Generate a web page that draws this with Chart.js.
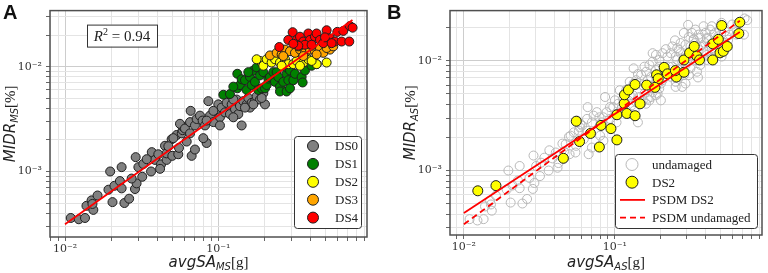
<!DOCTYPE html>
<html lang="en">
<head>
<meta charset="UTF-8">
<title>PSDM avgSA vs MIDR</title>
<script src="https://cdn.jsdelivr.net/npm/chart.js"></script>
<style>
  html, body { margin: 0; padding: 0; background: #fff; }
  #wrap { position: relative; width: 768px; height: 273px; overflow: hidden; }
  .panel { position: absolute; top: 0; width: 384px; height: 273px; }
  #panelA { left: 0; }
  #panelB { left: 384px; }
</style>
</head>
<body>
<div id="wrap">
  <div class="panel" id="panelA"><canvas id="chartA" width="384" height="273"></canvas></div>
  <div class="panel" id="panelB"><canvas id="chartB" width="384" height="273"></canvas></div>
</div>
<script>
// ---- Panel A data: avgSA_MS [g] vs MIDR_MS [%], by damage state ----
const ds0X = [0.0109,0.0123,0.0135,0.0138,0.0149,0.0153,0.0163,0.0151,0.0192,0.0197,0.0204,0.0210,0.0228,0.0234,0.0234,0.0244,0.0262,0.0286,0.0289,0.0293,0.0301,0.0319,0.0324,0.0364,0.0368,0.0386,0.0406,0.0423,0.0449,0.0460,0.0460,0.0496,0.0501,0.0535,0.0548,0.0554,0.0577,0.0585,0.0591,0.0509,0.0562,0.0606,0.0654,0.0660,0.0704,0.0722,0.0759,0.0790,0.0819,0.0861,0.0882,0.0928,0.0975,0.1000,0.1025,0.1051,0.1105,0.1133,0.1191,0.1222,0.1285,0.1317,0.1350,0.1384,0.1420,0.1455,0.1530,0.1569,0.1609,0.1650,0.1734,0.1778,0.1869,0.1966,0.2016,0.0622,0.0670,0.0839,0.0798,0.0704,0.0928,0.1253,0.1492,0.1692,0.1917,0.1253,0.1025,0.0839,0.0654,0.0472,0.0341,0.0417,0.0272];
const ds0Y = [0.00036,0.00035,0.00036,0.00047,0.00053,0.00043,0.00059,0.00049,0.00067,0.00100,0.00051,0.00073,0.00081,0.00069,0.00110,0.00050,0.00055,0.00068,0.00137,0.00077,0.00110,0.00089,0.00118,0.00100,0.00153,0.00129,0.00146,0.00117,0.00176,0.00129,0.00149,0.00203,0.00141,0.00223,0.00146,0.00168,0.00231,0.00248,0.00266,0.00208,0.00285,0.00257,0.00296,0.00379,0.00275,0.00317,0.00341,0.00306,0.00275,0.00469,0.00341,0.00296,0.00379,0.00437,0.00329,0.00407,0.00366,0.00452,0.00353,0.00437,0.00392,0.00486,0.00353,0.00421,0.00275,0.00469,0.00437,0.00503,0.00407,0.00452,0.00469,0.00521,0.00486,0.00559,0.00437,0.00193,0.00141,0.00187,0.00208,0.00162,0.00379,0.00486,0.00407,0.00437,0.00503,0.00329,0.00275,0.00306,0.00231,0.00174,0.00131,0.00106,0.000856];

const ds1X = [0.1078,0.1191,0.1330,0.1330,0.1384,0.1420,0.1492,0.1530,0.1609,0.1650,0.1692,0.1734,0.1778,0.1823,0.1869,0.1917,0.1966,0.2016,0.2067,0.2119,0.2173,0.2284,0.2342,0.2401,0.2462,0.2524,0.2524,0.2654,0.2791,0.2791,0.2791,0.2861,0.2934,0.2934,0.3084,0.3162,0.3496,0.3548,0.3675,0.4061,0.4377,0.1253,0.1569];
const ds1Y = [0.00540,0.00548,0.00856,0.00622,0.00668,0.00759,0.00743,0.00600,0.00797,0.00668,0.00919,0.00717,0.00986,0.00600,0.00826,0.00622,0.00887,0.00622,0.00668,0.00769,0.00797,0.00887,0.00717,0.00887,0.00797,0.00645,0.00580,0.00717,0.00856,0.00986,0.00580,0.00743,0.00622,0.00919,0.00743,0.00856,0.00797,0.00707,0.00919,0.01021,0.01058,0.00645,0.00887];

const ds2X = [0.1869,0.1966,0.2067,0.2227,0.2342,0.2524,0.2722,0.2861,0.3084,0.3243,0.3584,0.3864,0.4377,0.5088,0.1778,0.2588,0.3410,0.4061];
const ds2Y = [0.01136,0.01021,0.01177,0.01096,0.01177,0.01096,0.01177,0.01058,0.01058,0.01136,0.01096,0.01177,0.01058,0.01096,0.01177,0.01021,0.01021,0.01136];

const ds3X = [0.2173,0.2401,0.2588,0.2722,0.2934,0.3162,0.3410,0.3675,0.3961,0.4269,0.4603,0.4839,0.5349,0.2654,0.3584,0.4377,0.5088,0.3325,0.4061,0.5623];
const ds3Y = [0.01281,0.01356,0.01309,0.01456,0.01405,0.01356,0.01456,0.01356,0.01456,0.01405,0.01508,0.01356,0.01456,0.01263,0.01263,0.01309,0.01508,0.01563,0.01585,0.01563];

const ds4X = [0.2499,0.3053,0.3243,0.3410,0.3584,0.3864,0.3961,0.4269,0.4377,0.4603,0.4839,0.5088,0.5349,0.5766,0.5972,0.6535,0.7221,0.7516,0.6373,0.7150,0.3675,0.3325,0.4061,0.4963,0.2861,0.3084,0.5484];
const ds4Y = [0.01541,0.02134,0.01800,0.01933,0.01738,0.02074,0.01800,0.01933,0.02074,0.01800,0.01677,0.02227,0.01866,0.01738,0.02149,0.02196,0.02442,0.02357,0.01738,0.01738,0.01619,0.01585,0.01619,0.01905,0.01800,0.01654,0.01677];

const fitAX = [0.01, 0.75];
const fitAY = [0.000313, 0.0279];

// ---- Panel B data: avgSA_AS [g] vs MIDR_AS [%] ----
const undX = ds0X.concat(ds1X, ds2X, ds3X, ds4X);
const undY = ds0Y.concat(ds1Y, ds2Y, ds3Y, ds4Y);

const b2X = [0.01236,0.01630,0.04556,0.05546,0.05833,0.06888,0.07889,0.08090,0.09413,0.1031,0.1031,0.1199,0.1360,0.1152,0.1157,0.1229,0.1360,0.1466,0.1622,0.1887,0.1935,0.1840,0.2119,0.2228,0.2553,0.2514,0.2867,0.2867,0.3123,0.3351,0.3489,0.3633,0.4444,0.4444,0.4841,0.4964,0.5092,0.5221,0.5546,0.6616,0.6716];
const b2Y = [0.000653,0.000728,0.001293,0.002818,0.001839,0.002179,0.001639,0.002581,0.002412,0.003228,0.001903,0.003316,0.003162,0.004091,0.004911,0.005437,0.006099,0.004063,0.006017,0.007470,0.006891,0.005738,0.008733,0.007625,0.007129,0.008162,0.01021,0.007889,0.01185,0.01356,0.01107,0.01021,0.01021,0.01432,0.01574,0.01185,0.02106,0.01225,0.01356,0.01778,0.02254];

const psdmX = [0.01, 0.672];
const psdmDS2Y = [0.000409, 0.0184];
const psdmUndY = [0.000323, 0.0233];

// axis ranges
const axA = { xMin: 0.00798, xMax: 0.933, yMin: 0.000237, yMax: 0.0343 };
const axB = { xMin: 0.00809, xMax: 0.942, yMin: 0.000258, yMax: 0.0288 };

// ---- helpers ----
const pts = (xs, ys) => xs.map((x, i) => ({ x: x, y: ys[i] }));

function isDecade(v) {
  const l = Math.log10(v);
  return Math.abs(l - Math.round(l)) < 1e-6;
}

function supNum(n) {
  const map = { '-': '\u207b', '0': '\u2070', '1': '\u00b9', '2': '\u00b2', '3': '\u00b3', '4': '\u2074' };
  return String(n).split('').map(c => map[c]).join('');
}

function logTicks(scale) {
  const out = [];
  for (let d = -4; d <= 0; d++) {
    for (let k = 1; k <= 9; k++) {
      const v = k * Math.pow(10, d);
      if (v >= scale.min && v <= scale.max) out.push({ value: v });
    }
  }
  scale.ticks = out;
}

function logAxis(min, max, size, isX) {
  return {
    type: 'logarithmic',
    min: min,
    max: max,
    afterBuildTicks: logTicks,
    afterFit: s => { if (isX) s.height = size; else s.width = size; },
    border: { display: false },
    grid: {
      color: c => (c.tick && isDecade(c.tick.value)) ? '#cdcdcd' : '#e4e4e4',
      lineWidth: 1,
      tickLength: 4,
      tickColor: '#666'
    },
    ticks: {
      autoSkip: false,
      maxRotation: 0,
      padding: isX ? 2 : 4,
      color: '#333',
      font: { family: '"DejaVu Serif", serif', size: 11 },
      callback: v => isDecade(v) ? '10' + supNum(Math.round(Math.log10(v))) : ''
    }
  };
}

function drawRich(ctx, parts, cx, y) {
  let w = 0;
  parts.forEach(p => { ctx.font = p.font; w += ctx.measureText(p.text).width; });
  let x = cx - w / 2;
  ctx.textAlign = 'left';
  ctx.textBaseline = 'alphabetic';
  parts.forEach(p => {
    ctx.font = p.font;
    ctx.fillText(p.text, x, y + (p.dy || 0));
    x += ctx.measureText(p.text).width;
  });
}

function titleParts(main, sub, unit) {
  return [
    { text: main, font: 'italic 15px "DejaVu Sans"' },
    { text: sub, font: 'italic 10px "DejaVu Sans"', dy: 3 },
    { text: unit, font: '15px "Liberation Serif"' }
  ];
}

// panel letter, axis titles, frame, inner legend, optional R^2 box
function decor(cfg) {
  return {
    id: 'decor' + cfg.letter,
    afterDraw(chart) {
      const ctx = chart.ctx;
      const a = chart.chartArea;
      ctx.save();

      ctx.strokeStyle = '#505050';
      ctx.lineWidth = 1.5;
      ctx.strokeRect(a.left, a.top, a.right - a.left, a.bottom - a.top);

      ctx.fillStyle = '#111';
      ctx.font = 'bold 20px "Liberation Sans"';
      ctx.textAlign = 'left';
      ctx.textBaseline = 'alphabetic';
      ctx.fillText(cfg.letter, 3, 19);

      ctx.fillStyle = '#222';
      drawRich(ctx, cfg.xTitle, (a.left + a.right) / 2, 267);

      ctx.save();
      ctx.translate(cfg.yTitleX, (a.top + a.bottom) / 2);
      ctx.rotate(-Math.PI / 2);
      drawRich(ctx, cfg.yTitle, 0, 0);
      ctx.restore();

      if (cfg.r2) {
        const bx = a.left + 37, by = a.top + 14, bw = 70, bh = 22;
        ctx.fillStyle = '#fff';
        ctx.fillRect(bx, by, bw, bh);
        ctx.strokeStyle = '#333';
        ctx.lineWidth = 1;
        ctx.strokeRect(bx + 0.5, by + 0.5, bw, bh);
        ctx.fillStyle = '#222';
        drawRich(ctx, [
          { text: 'R', font: 'italic 15px "Liberation Serif"' },
          { text: '2', font: '10px "Liberation Serif"', dy: -6 },
          { text: ' = ' + cfg.r2, font: '15px "Liberation Serif"' }
        ], bx + bw / 2, by + 16);
      }

      const L = cfg.legend;
      const lx = a.right - L.right - L.w, ly = a.bottom - L.bottom - L.h;
      ctx.fillStyle = '#fff';
      ctx.strokeStyle = '#333';
      ctx.lineWidth = 1;
      ctx.beginPath();
      ctx.roundRect(lx + 0.5, ly + 0.5, L.w, L.h, 3);
      ctx.fill();
      ctx.stroke();
      L.items.forEach((it, i) => {
        const y = ly + L.first + i * L.step;
        if (it.kind === 'line') {
          ctx.strokeStyle = it.color;
          ctx.lineWidth = 1.8;
          ctx.setLineDash(it.dash || []);
          ctx.beginPath();
          ctx.moveTo(lx + L.lineFrom, y);
          ctx.lineTo(lx + L.lineTo, y);
          ctx.stroke();
          ctx.setLineDash([]);
        } else {
          ctx.beginPath();
          ctx.arc(lx + L.markX, y, it.r, 0, Math.PI * 2);
          if (it.fill) { ctx.fillStyle = it.fill; ctx.fill(); }
          ctx.strokeStyle = it.stroke;
          ctx.lineWidth = 1;
          ctx.stroke();
        }
        ctx.fillStyle = '#222';
        ctx.font = '13px "Liberation Serif"';
        ctx.textAlign = 'left';
        ctx.textBaseline = 'middle';
        ctx.fillText(it.label, lx + L.textX, y + 1);
      });

      ctx.restore();
    }
  };
}

function scatterSet(label, xs, ys, fill, stroke, r, order) {
  return {
    label: label,
    data: pts(xs, ys),
    backgroundColor: fill,
    borderColor: stroke,
    borderWidth: 1,
    pointRadius: r,
    order: order
  };
}

function lineSet(label, xs, ys, color, dash, order) {
  return {
    label: label,
    data: pts(xs, ys),
    showLine: true,
    borderColor: color,
    borderWidth: 1.8,
    borderDash: dash,
    pointRadius: 0,
    order: order
  };
}

const gray = '#808080', green = '#008000', yellow = '#ffff00', orange = '#ffa500', red = '#ff0000', edge = '#1e1e1e';

// ---- Panel A ----
new Chart(document.getElementById('chartA'), {
  type: 'scatter',
  data: {
    datasets: [
      lineSet('fit', fitAX, fitAY, red, [], 0),
      scatterSet('DS4', ds4X, ds4Y, red, edge, 4.5, 1),
      scatterSet('DS3', ds3X, ds3Y, orange, edge, 4.5, 2),
      scatterSet('DS2', ds2X, ds2Y, yellow, edge, 4.5, 3),
      scatterSet('DS1', ds1X, ds1Y, green, edge, 4.5, 4),
      scatterSet('DS0', ds0X, ds0Y, gray, edge, 4.5, 5)
    ]
  },
  options: {
    responsive: false,
    animation: false,
    events: [],
    layout: { padding: { left: 0, right: 17, top: 3, bottom: 0 } },
    plugins: { legend: { display: false }, tooltip: { enabled: false } },
    scales: {
      x: logAxis(axA.xMin, axA.xMax, 36, true),
      y: logAxis(axA.yMin, axA.yMax, 50, false)
    }
  },
  plugins: [decor({
    letter: 'A',
    xTitle: titleParts('avgSA', 'MS', '[g]'),
    yTitle: titleParts('MIDR', 'MS', '[%]'),
    yTitleX: 15,
    r2: '0.94',
    legend: {
      w: 67, h: 92, right: 6, bottom: 9, first: 10, step: 17.9, markX: 19, textX: 41,
      items: [
        { label: 'DS0', fill: gray, stroke: edge, r: 5.5 },
        { label: 'DS1', fill: green, stroke: edge, r: 5.5 },
        { label: 'DS2', fill: yellow, stroke: edge, r: 5.5 },
        { label: 'DS3', fill: orange, stroke: edge, r: 5.5 },
        { label: 'DS4', fill: red, stroke: edge, r: 5.5 }
      ]
    }
  })]
});

// ---- Panel B ----
new Chart(document.getElementById('chartB'), {
  type: 'scatter',
  data: {
    datasets: [
      lineSet('PSDM DS2', psdmX, psdmDS2Y, red, [], 0),
      lineSet('PSDM undamaged', psdmX, psdmUndY, red, [6, 4], 1),
      scatterSet('DS2', b2X, b2Y, yellow, edge, 5, 2),
      scatterSet('undamaged', undX, undY, 'rgba(0,0,0,0)', '#b8b8b8', 4.5, 3)
    ]
  },
  options: {
    responsive: false,
    animation: false,
    events: [],
    layout: { padding: { left: 0, right: 3.3, top: 3, bottom: 0 } },
    plugins: { legend: { display: false }, tooltip: { enabled: false } },
    scales: {
      x: logAxis(axB.xMin, axB.xMax, 38, true),
      y: logAxis(axB.yMin, axB.yMax, 66, false)
    }
  },
  plugins: [decor({
    letter: 'B',
    xTitle: titleParts('avgSA', 'AS', '[g]'),
    yTitle: titleParts('MIDR', 'AS', '[%]'),
    yTitleX: 31,
    legend: {
      w: 142, h: 74, right: 5, bottom: 7, first: 10.5, step: 17.7, markX: 17, textX: 37,
      lineFrom: 5, lineTo: 30,
      items: [
        { label: 'undamaged', fill: null, stroke: '#b8b8b8', r: 6 },
        { label: 'DS2', fill: yellow, stroke: edge, r: 6 },
        { label: 'PSDM DS2', kind: 'line', color: red },
        { label: 'PSDM undamaged', kind: 'line', color: red, dash: [6, 4] }
      ]
    }
  })]
});
</script>
</body>
</html>
